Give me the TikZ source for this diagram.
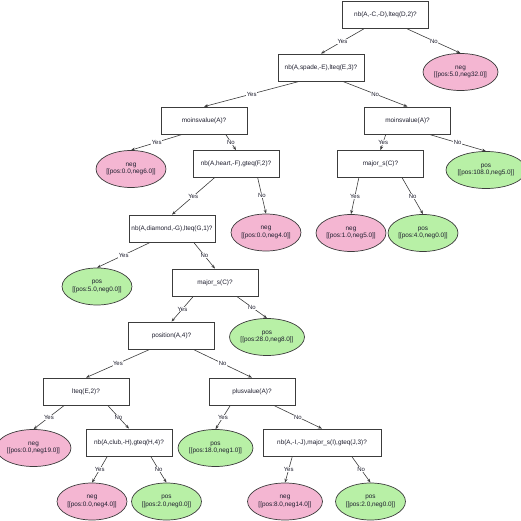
\documentclass[tikz,border=0pt]{standalone}
\usepackage{fontspec}
\setmainfont{Liberation Sans}
\usetikzlibrary{arrows.meta,calc,shapes.geometric}
\definecolor{tline}{HTML}{3C3C3C}
\definecolor{tpink}{HTML}{F4B6D2}
\definecolor{tgreen}{HTML}{B8F0A6}
\definecolor{ttext}{HTML}{1E1E2E}
\tikzset{
  test/.style={draw=tline,fill=white,line width=0.8pt,minimum width=86pt,minimum height=27pt,inner sep=1pt,font=\fontsize{6.4}{7}\selectfont,text=ttext},
  leaf/.style={ellipse,draw=tline,line width=0.7pt,minimum width=63pt,minimum height=37pt,inner sep=0pt,align=center,font=\fontsize{6.4}{7.6}\selectfont,text=ttext},
  negl/.style={leaf,fill=tpink},
  posl/.style={leaf,fill=tgreen},
  arr/.style={-{Stealth[length=4pt,width=3pt]},line width=0.6pt,draw=tline},
  lbl/.style={font=\fontsize{6}{6}\selectfont,text=ttext,fill=white,inner sep=0.4pt},
}
\begin{document}
\begin{tikzpicture}[x=1pt,y=-1pt]
  \useasboundingbox (0,0) rectangle (521,521);
  % tests
  \node[test] (q1) at (385.5,15) {nb(A,-C,-D),lteq(D,2)?};
  \node[test] (q2) at (321,67.5) {nb(A,spade,-E),lteq(E,3)?};
  \node[test] (q3) at (204,120.5) {moinsvalue(A)?};
  \node[test] (q4) at (407.5,120.5) {moinsvalue(A)?};
  \node[test] (q5) at (236,164) {nb(A,heart,-F),gteq(F,2)?};
  \node[test] (q6) at (380.5,164) {major\_s(C)?};
  \node[test] (q7) at (172,228.5) {nb(A,diamond,-G),lteq(G,1)?};
  \node[test] (q8) at (215,282.5) {major\_s(C)?};
  \node[test] (q9) at (171.5,335.5) {position(A,4)?};
  \node[test] (q10) at (86,391.5) {lteq(E,2)?};
  \node[test] (q11) at (252,391.5) {plusvalue(A)?};
  \node[test] (q12) at (129,442.5) {nb(A,club,-H),gteq(H,4)?};
  \node[test,minimum width=118pt] (q13) at (322,442.5) {nb(A,-I,-J),major\_s(I),gteq(J,3)?};
  % leaves
  \node[negl] (l1) at (460.5,72) {neg\\{[[pos:5.0,neg32.0]]}};
  \node[negl] (l2) at (131,169) {neg\\{[[pos:0.0,neg6.0]]}};
  \node[posl] (l3) at (486,170) {pos\\{[[pos:108.0,neg5.0]]}};
  \node[negl] (l4) at (266,232.5) {neg\\{[[pos:0.0,neg4.0]]}};
  \node[negl] (l5) at (351,233) {neg\\{[[pos:1.0,neg5.0]]}};
  \node[posl] (l6) at (423,233) {pos\\{[[pos:4.0,neg0.0]]}};
  \node[posl] (l7) at (97,286.5) {pos\\{[[pos:5.0,neg0.0]]}};
  \node[posl] (l8) at (267,337) {pos\\{[[pos:28.0,neg8.0]]}};
  \node[negl] (l9) at (33.5,448) {neg\\{[[pos:0.0,neg19.0]]}};
  \node[posl] (l10) at (215.5,448) {pos\\{[[pos:18.0,neg1.0]]}};
  \node[negl] (l11) at (92,501.5) {neg\\{[[pos:0.0,neg4.0]]}};
  \node[posl] (l12) at (166.5,501.5) {pos\\{[[pos:2.0,neg0.0]]}};
  \node[negl] (l13) at (285,501.5) {neg\\{[[pos:8.0,neg14.0]]}};
  \node[posl] (l14) at (370.5,501.5) {pos\\{[[pos:2.0,neg0.0]]}};
  % branches
  \foreach \p/\c in {q1/q2,q2/q3,q3/l2,q4/q6,q5/q7,q6/l5,q7/l7,q8/q9,q9/q10,q10/l9,q11/l10,q12/l11,q13/l13}
    \draw[arr] ($(\p.south)!.5!(\p.south west)$) -- node[lbl]{Yes} (\c.north);
  \foreach \p/\c in {q1/l1,q2/q4,q3/q5,q4/l3,q5/l4,q6/l6,q7/q8,q8/l8,q9/q11,q10/q12,q11/q13,q12/l12,q13/l14}
    \draw[arr] ($(\p.south)!.5!(\p.south east)$) -- node[lbl]{No} (\c.north);
\end{tikzpicture}
\end{document}
